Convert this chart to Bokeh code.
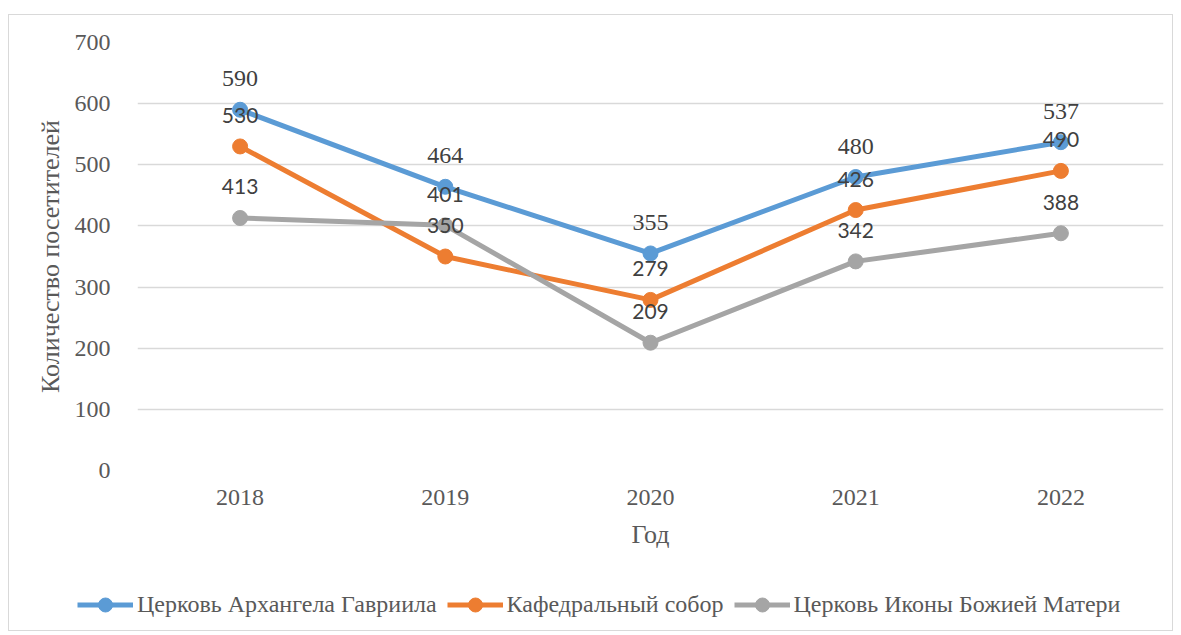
from bokeh.plotting import figure
from bokeh.layouts import column
from bokeh.models import ColumnDataSource, Legend, LegendItem, Range1d, FixedTicker
from bokeh.core.properties import value
from bokeh.embed import file_html
from bokeh.resources import INLINE

years = ["2018", "2019", "2020", "2021", "2022"]
series_names = ["Церковь Архангела Гавриила", "Кафедральный собор", "Церковь Иконы Божией Матери"]
gabriel = [590, 464, 355, 480, 537]
cathedral = [530, 350, 279, 426, 490]
icon = [413, 401, 209, 342, 388]
colors = ["#5B9BD5", "#ED7D31", "#A5A5A5"]
y_ticks = [0, 100, 200, 300, 400, 500, 600, 700]

SERIF = "Liberation Serif"
SANS = "Lato"

fig = figure(x_range=years, y_range=Range1d(0, 700), width=1163, height=545,
             output_backend="svg", toolbar_location=None,
             min_border_left=128, min_border_right=9, min_border_top=27, min_border_bottom=90)
fig.outline_line_color = None
fig.background_fill_color = "white"
fig.border_fill_color = "white"
fig.frame_align = False

fig.xgrid.grid_line_color = None
fig.ygrid.grid_line_color = "#d9d9d9"
fig.ygrid.grid_line_width = 1.3
fig.yaxis.ticker = FixedTicker(ticks=y_ticks)

for ax in (fig.xaxis[0], fig.yaxis[0]):
    ax.axis_line_color = None
    ax.major_tick_line_color = None
    ax.minor_tick_line_color = None
    ax.major_label_text_font = SERIF
    ax.major_label_text_font_size = "24px"
    ax.major_label_text_color = "#595959"
    ax.axis_label_text_font = SERIF
    ax.axis_label_text_font_size = "26px"
    ax.axis_label_text_color = "#595959"
    ax.axis_label_text_font_style = "normal"

fig.xaxis.axis_label = "Год"
fig.yaxis.axis_label = "Количество посетителей"
fig.xaxis.major_label_standoff = 13
fig.xaxis.axis_label_standoff = 12
fig.yaxis.major_label_standoff = 21
fig.yaxis.axis_label_standoff = 7

data_sets = [gabriel, cathedral, icon]
for vals, col in zip(data_sets, colors):
    src = ColumnDataSource(dict(x=years, y=vals))
    fig.line("x", "y", source=src, line_color=col, line_width=5)
    fig.scatter("x", "y", source=src, size=15, fill_color=col, line_color=col)

label_fonts = [SERIF, SANS, SANS]
label_sizes = ["24px", "21px", "21px"]
for vals, fnt, fs in zip(data_sets, label_fonts, label_sizes):
    src = ColumnDataSource(dict(x=years, y=vals, t=[str(v) for v in vals]))
    fig.text("x", "y", text="t", source=src, text_font=value(fnt), text_font_size=fs,
             text_color="#404040", text_align="center", text_baseline="middle", y_offset=-31)

# legend strip (separate figure so the legend is not clipped by the main frame)
leg = figure(x_range=years, y_range=Range1d(0, 1), width=1163, height=70,
             output_backend="svg", toolbar_location=None, min_border=0,
             x_axis_type=None, y_axis_type=None)
leg.frame_align = False
leg.outline_line_color = None
leg.xgrid.grid_line_color = None
leg.ygrid.grid_line_color = None
items = []
for name, vals, col in zip(series_names, data_sets, colors):
    # series values lie far outside this strip's y-range, so only the legend glyphs show
    src = ColumnDataSource(dict(x=years, y=vals))
    ln = leg.line("x", "y", source=src, line_color=col, line_width=5)
    sc = leg.scatter("x", "y", source=src, size=15, fill_color=col, line_color=col)
    items.append(LegendItem(label=name, renderers=[ln, sc]))

legend = Legend(items=items, orientation="horizontal", location=(68, 8),
                label_text_font=SERIF, label_text_font_size="24px", label_text_color="#595959",
                glyph_width=56, glyph_height=35, label_standoff=4, spacing=10,
                padding=0, margin=0, border_line_color=None, background_fill_alpha=0)
leg.add_layout(legend, "center")

p = column(fig, leg, spacing=0,
           styles={"border": "1px solid #d9d9d9", "margin-left": "8px", "margin-top": "14px"})

open("out.html", "w").write(file_html(p, INLINE))
